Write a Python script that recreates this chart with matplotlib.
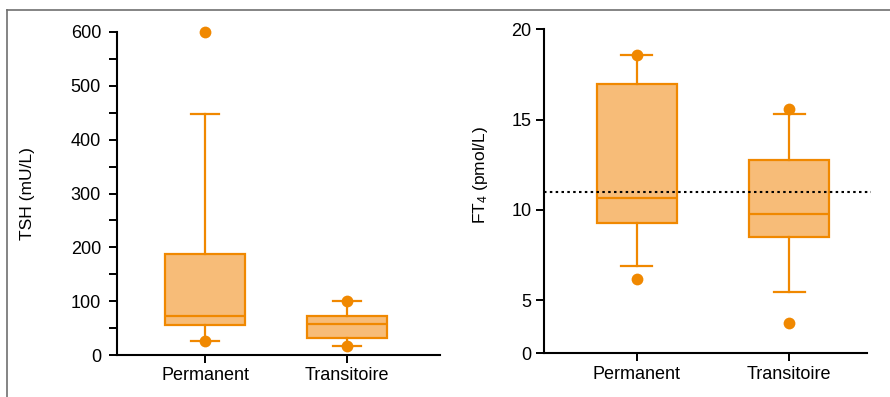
import numpy as np
import matplotlib
matplotlib.use("Agg")
from matplotlib import pyplot as plt
from matplotlib.lines import Line2D

plt.rcParams['font.family'] = ['Liberation Sans', 'DejaVu Sans']
plt.rcParams['mathtext.fontset'] = 'custom'
plt.rcParams['mathtext.rm'] = 'Liberation Sans'
plt.rcParams['mathtext.it'] = 'Liberation Sans'

groups = ['Permanent', 'Transitoire']

# TSH (mU/L): whisker low, Q1, median, Q3, whisker high
tsh_wlo = [26, 17]
tsh_q1 = [56, 32]
tsh_med = [72, 58]
tsh_q3 = [188, 73]
tsh_whi = [448, 101]
tsh_out = [[600, 26], [100, 17]]

# FT4 (pmol/L)
ft4_wlo = [6.9, 5.45]
ft4_q1 = [9.25, 8.5]
ft4_med = [10.65, 9.75]
ft4_q3 = [16.95, 12.75]
ft4_whi = [18.55, 15.3]
ft4_out = [[18.6, 6.15], [15.6, 2.85]]
ft4_ref = 11.0

EDGE = '#F08800'
FILL = '#F7BC78'

fig = plt.figure(figsize=(8.9, 3.97), dpi=100)


def draw_boxes(ax, wlo, q1, med, q3, whi, outs, width):
    stats = []
    for i in range(len(groups)):
        stats.append(dict(whislo=wlo[i], q1=q1[i], med=med[i], q3=q3[i],
                          whishi=whi[i], fliers=[], label=groups[i]))
    ax.bxp(stats, positions=[1, 2], widths=width, patch_artist=True,
           showfliers=False,
           boxprops=dict(facecolor=FILL, edgecolor=EDGE, linewidth=1.6),
           medianprops=dict(color=EDGE, linewidth=1.6),
           whiskerprops=dict(color=EDGE, linewidth=1.6),
           capprops=dict(color=EDGE, linewidth=1.6),
           capwidths=0.2)
    for i, pts in enumerate(outs):
        ax.scatter([i + 1] * len(pts), pts, s=72, color=EDGE, zorder=5,
                   linewidths=0, clip_on=False)


def style(ax):
    for s in ['top', 'right']:
        ax.spines[s].set_visible(False)
    for s in ['left', 'bottom']:
        ax.spines[s].set_linewidth(1.5)
    ax.tick_params(axis='both', which='both', length=6, width=1.4,
                   labelsize=13, colors='black', pad=3)
    ax.set_xticks([1, 2])
    ax.set_xticklabels(groups)


# left panel
ax1 = fig.add_axes([117 / 890, 42 / 397, 323 / 890, 323 / 397])
draw_boxes(ax1, tsh_wlo, tsh_q1, tsh_med, tsh_q3, tsh_whi, tsh_out, 0.563)
style(ax1)
ax1.tick_params(axis='y', pad=5.5)
ax1.set_xlim(0.38, 2.655)
ax1.set_ylim(0, 600)
ax1.set_yticks(np.arange(0, 601, 100))
ax1.set_yticks(np.arange(50, 600, 100), minor=True)
ax1.set_ylabel('TSH (mU/L)', fontsize=12.5)
ax1.yaxis.set_label_coords(-0.255, 0.5)

# right panel, axis compressed below 5
k = 0.59


def fwd(y):
    y = np.asarray(y, dtype=float)
    return np.where(y < 5, y * k, 5 * k + (y - 5))


def inv(t):
    t = np.asarray(t, dtype=float)
    return np.where(t < 5 * k, t / k, t - 5 * k + 5)


ax2 = fig.add_axes([544 / 890, 43.7 / 397, 323 / 890, 324 / 397])
ax2.set_yscale('function', functions=(fwd, inv))
draw_boxes(ax2, ft4_wlo, ft4_q1, ft4_med, ft4_q3, ft4_whi, ft4_out, 0.524)
style(ax2)
ax2.set_xlim(0.393, 2.509)
ax2.set_ylim(0, 20)
ax2.set_yticks([0, 5, 10, 15, 20])
ax2.set_yticklabels(['0', '5', '10', '15', '20'])
ax2.yaxis.set_minor_locator(matplotlib.ticker.NullLocator())
ax2.plot([0.393, 2.535], [ft4_ref, ft4_ref], ls=(0, (1.2, 1.6)),
         color='black', lw=1.5, clip_on=False, zorder=6)
ax2.set_ylabel('FT$_4$ (pmol/L)', fontsize=12.5)
ax2.yaxis.set_label_coords(-0.167, 0.55)

# frame lines
fig.add_artist(Line2D([7 / 890, 1], [1 - 10 / 397, 1 - 10 / 397],
                      color='#707070', lw=1.2))
fig.add_artist(Line2D([7 / 890, 7 / 890], [0, 1 - 10 / 397],
                      color='#707070', lw=1.2))

fig.savefig('out.png', dpi=100)
